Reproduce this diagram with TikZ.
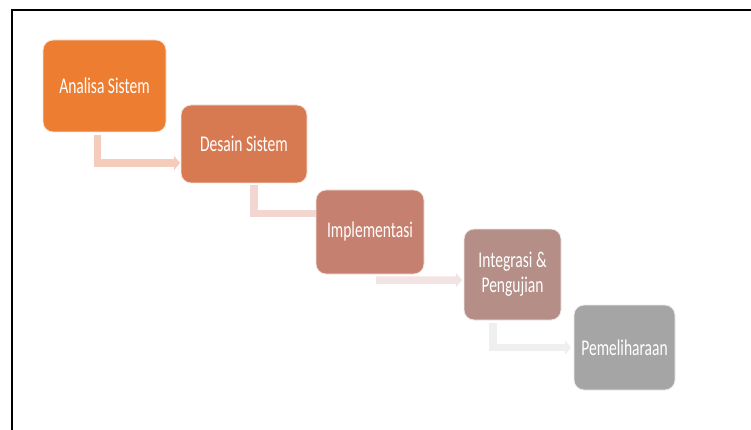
\documentclass[tikz,border=0pt]{standalone}
\usepackage{fontspec}
\newfontfamily\cfont[FakeStretch=0.69]{Carlito}
\usetikzlibrary{arrows.meta,calc}
\definecolor{bA}{HTML}{ED7D31}
\definecolor{bB}{HTML}{D77A51}
\definecolor{bC}{HTML}{C5806F}
\definecolor{bD}{HTML}{B48E87}
\definecolor{bE}{HTML}{A5A5A5}
\definecolor{aA}{HTML}{F5CBBC}
\definecolor{aB}{HTML}{F2D6CF}
\definecolor{aC}{HTML}{F2E4E3}
\definecolor{aD}{HTML}{EFEFEF}
\tikzset{
  stage/.style={rectangle, rounded corners=10pt, inner sep=0pt, outer sep=0pt,
    draw=white!80!#1, line width=0.8pt, fill=#1, text=white, align=center,
    font=\cfont\fontsize{22.5}{25}\selectfont},
  conn/.style={draw=#1, line width=7.5pt, line cap=butt, line join=miter},
  connhead/.style={conn=#1, -{Triangle[width=14pt,length=6pt,fill=#1]}},
  frameline/.style={line width=2pt, draw=black}
}
\begin{document}
\begin{tikzpicture}[x=1pt,y=-1pt]
\useasboundingbox (0,0) rectangle (751,430);
\fill[white] (0,0) rectangle (751,430);
\draw[frameline] (12,440) -- (12,10) -- (760,10);

\node[stage=bA, minimum width=123pt, minimum height=92pt] (a) at (104.5,86) {Analisa Sistem};
\node[stage=bB, minimum width=126pt, minimum height=78pt] (b) at (244,144) {Desain Sistem};
\node[stage=bC, minimum width=108pt, minimum height=84pt] (c) at (370,232) {Implementasi};
\node[stage=bD, minimum width=97pt, minimum height=91pt] (d) at (512.5,274.5) {Integrasi \&\\Pengujian};
\node[stage=bE, minimum width=101pt, minimum height=85pt] (e) at (624.5,347.5) {Pemeliharaan};

\coordinate (a1) at ($(a.south west)+(54.5,3)$);
\coordinate (b1) at ($(b.south west)+(-1,-20)$);
\draw[connhead=aA] (a1) |- (b1);

\coordinate (b2) at ($(b.south west)+(73,2)$);
\coordinate (c2) at ($(c.north west)+(0,23.5)$);
\draw[conn=aB] (b2) |- (c2);

\coordinate (c3) at ($(c.south west)+(60,6.2)$);
\coordinate (d3) at ($(d.north west)+(-2,51)$);
\draw[connhead=aC] (c3) -- (d3);

\coordinate (d4) at ($(d.south west)+(29,3)$);
\coordinate (e4) at ($(e.north west)+(-3,42.5)$);
\draw[connhead=aD] (d4) |- (e4);
\end{tikzpicture}
\end{document}
